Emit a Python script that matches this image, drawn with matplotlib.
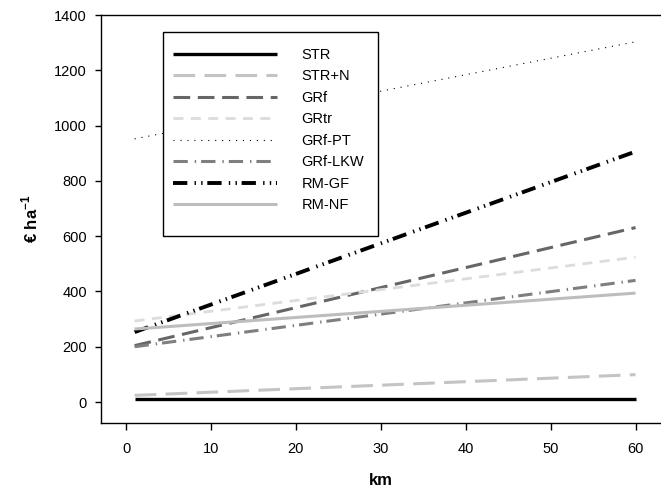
import matplotlib
matplotlib.use("Agg")
import matplotlib.pyplot as plt
from matplotlib.patches import Rectangle

# -------------------------------------------------------------------
# Data: costs at 1 km and 60 km
# -------------------------------------------------------------------
km = [1, 60]

str_vals = [10, 10]
str_n = [24, 99]
grf = [204, 631]
grtr = [293, 524]
grf_pt = [952, 1303]
grf_lkw = [200, 440]
rm_gf = [253, 906]
rm_nf = [264, 394]

labels = ["STR", "STR+N", "GRf", "GRtr", "GRf-PT", "GRf-LKW", "RM-GF", "RM-NF"]
series = [str_vals, str_n, grf, grtr, grf_pt, grf_lkw, rm_gf, rm_nf]

# -------------------------------------------------------------------
# Styles (dash lengths in points)
# -------------------------------------------------------------------
plt.rcParams["font.family"] = ["Liberation Sans", "DejaVu Sans"]
plt.rcParams["lines.scale_dashes"] = False
plt.rcParams["mathtext.fontset"] = "custom"
plt.rcParams["mathtext.bf"] = "Liberation Sans:bold"
plt.rcParams["mathtext.rm"] = "Liberation Sans"

styles = [
    dict(color="black", lw=2.4, ls="-"),
    dict(color="#c4c4c4", lw=2.2, ls=(0, (15.6, 6.7))),
    dict(color="#666666", lw=2.2, ls=(0, (12.0, 5.5))),
    dict(color="#dcdcdc", lw=2.0, ls=(0, (7.2, 5.3))),
    dict(color="black", lw=0.8, ls=(0, (0.8, 4.2))),
    dict(color="#7f7f7f", lw=2.2, ls=(0, (10.3, 5.0, 1.0, 3.6))),
    dict(color="black", lw=2.8, ls=(0, (10.3, 5.2, 1.0, 3.8, 1.0, 3.4))),
    dict(color="#bdbdbd", lw=2.2, ls="-"),
]

W, H = 661, 492
fig = plt.figure(figsize=(W / 100, H / 100), dpi=100)
ax = fig.add_axes([0.1523, 0.1402, 0.8477, 0.8293])

for vals, lab, st in zip(series, labels, styles):
    ax.plot(km, vals, label=lab, solid_capstyle="butt", dash_capstyle="butt", **st)

ax.set_xlim(-3, 63)
ax.set_ylim(-76, 1400)
ax.set_xticks([0, 10, 20, 30, 40, 50, 60])
ax.set_yticks(range(0, 1401, 200))
ax.tick_params(axis="x", length=5, width=1, pad=9, labelsize=10.5)
ax.tick_params(axis="y", length=4.3, width=1, pad=5.5, labelsize=10.5)
ax.spines["right"].set_visible(False)
for sp in ["left", "bottom", "top"]:
    ax.spines[sp].set_linewidth(1.0)

ax.set_xlabel("km", fontsize=12, fontweight="bold", labelpad=12)
ax.set_ylabel(r"€ ha$^{\mathbf{-1}}$", fontsize=12, fontweight="bold", labelpad=10)

# legend box (white, black border) drawn over the lines
box = Rectangle((163 / W, 1 - 236 / H), (378 - 163) / W, (236 - 32) / H,
                transform=fig.transFigure, facecolor="white", edgecolor="black",
                linewidth=1.0, zorder=5, clip_on=False)
ax.add_patch(box)

leg = ax.legend(
    loc="upper left",
    bbox_to_anchor=(173 / W, 1 - 48 / H),
    bbox_transform=fig.transFigure,
    frameon=False,
    fontsize=10.5,
    handlelength=7.1,
    handletextpad=1.7,
    labelspacing=0.51,
    borderpad=0,
    borderaxespad=0,
)
leg.set_zorder(6)

fig.savefig("out.png", dpi=100)
